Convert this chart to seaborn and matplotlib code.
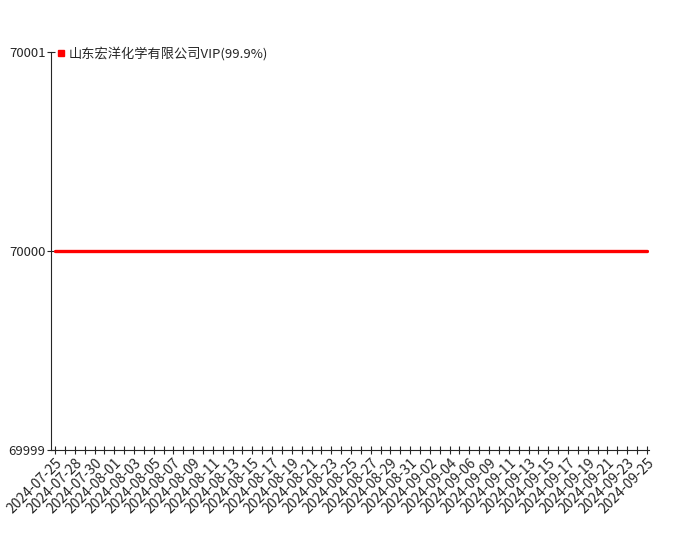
import numpy as np
import pandas as pd
import seaborn as sns
import matplotlib.pyplot as plt

OUT_PATH = 'out.png'

# fechas de la serie (faltan 07-26 y 09-07)
all_days = pd.date_range('2024-07-25', '2024-09-25', freq='D')
dates = [d.strftime('%Y-%m-%d') for d in all_days
         if d.strftime('%m-%d') not in ('07-26', '09-07')]
prices = [70000] * len(dates)
series_name = '山东宏洋化学有限公司VIP(99.9%)'
y_ticks = [69999, 70000, 70001]


def main():
    sns.set_style('ticks')
    plt.rcParams['font.family'] = ['Noto Sans CJK SC', 'DejaVu Sans']
    plt.rcParams['axes.unicode_minus'] = False

    df = pd.DataFrame({'pos': np.arange(len(dates)), 'price': prices})

    fig = plt.figure(figsize=(7, 5.5), dpi=100)
    ax = fig.add_axes([0.073, 0.182, 0.854, 0.723])

    sns.lineplot(data=df, x='pos', y='price', color='#ff0000', linewidth=2.4,
                 ax=ax, label=series_name)

    ax.set_xlim(-0.4, len(dates) - 1 + 0.2)
    ax.set_ylim(y_ticks[0], y_ticks[-1])
    ax.set_yticks(y_ticks)
    ax.set_yticklabels([str(v) for v in y_ticks], fontsize=9.5)

    ax.set_xticks(np.arange(len(dates)))
    ax.set_xticklabels([d if i % 2 == 0 else '' for i, d in enumerate(dates)],
                       rotation=45, ha='right', rotation_mode='anchor', fontsize=10)
    ax.tick_params(axis='both', direction='inout', length=6, width=0.8, pad=1)

    ax.set_xlabel('')
    ax.set_ylabel('')
    sns.despine(ax=ax)
    ax.spines['left'].set_linewidth(0.8)
    ax.spines['bottom'].set_linewidth(0.8)

    handle = plt.Line2D([], [], marker='s', color='#ff0000', linestyle='none',
                        markersize=5)
    ax.legend([handle], [series_name], loc='upper left', frameon=False,
              fontsize=9.5, handlelength=0.6, handletextpad=0.3,
              bbox_to_anchor=(0.01, 1.015),
              borderaxespad=0.0, borderpad=0.0)

    fig.savefig(OUT_PATH, dpi=100)


if __name__ == '__main__':
    main()
